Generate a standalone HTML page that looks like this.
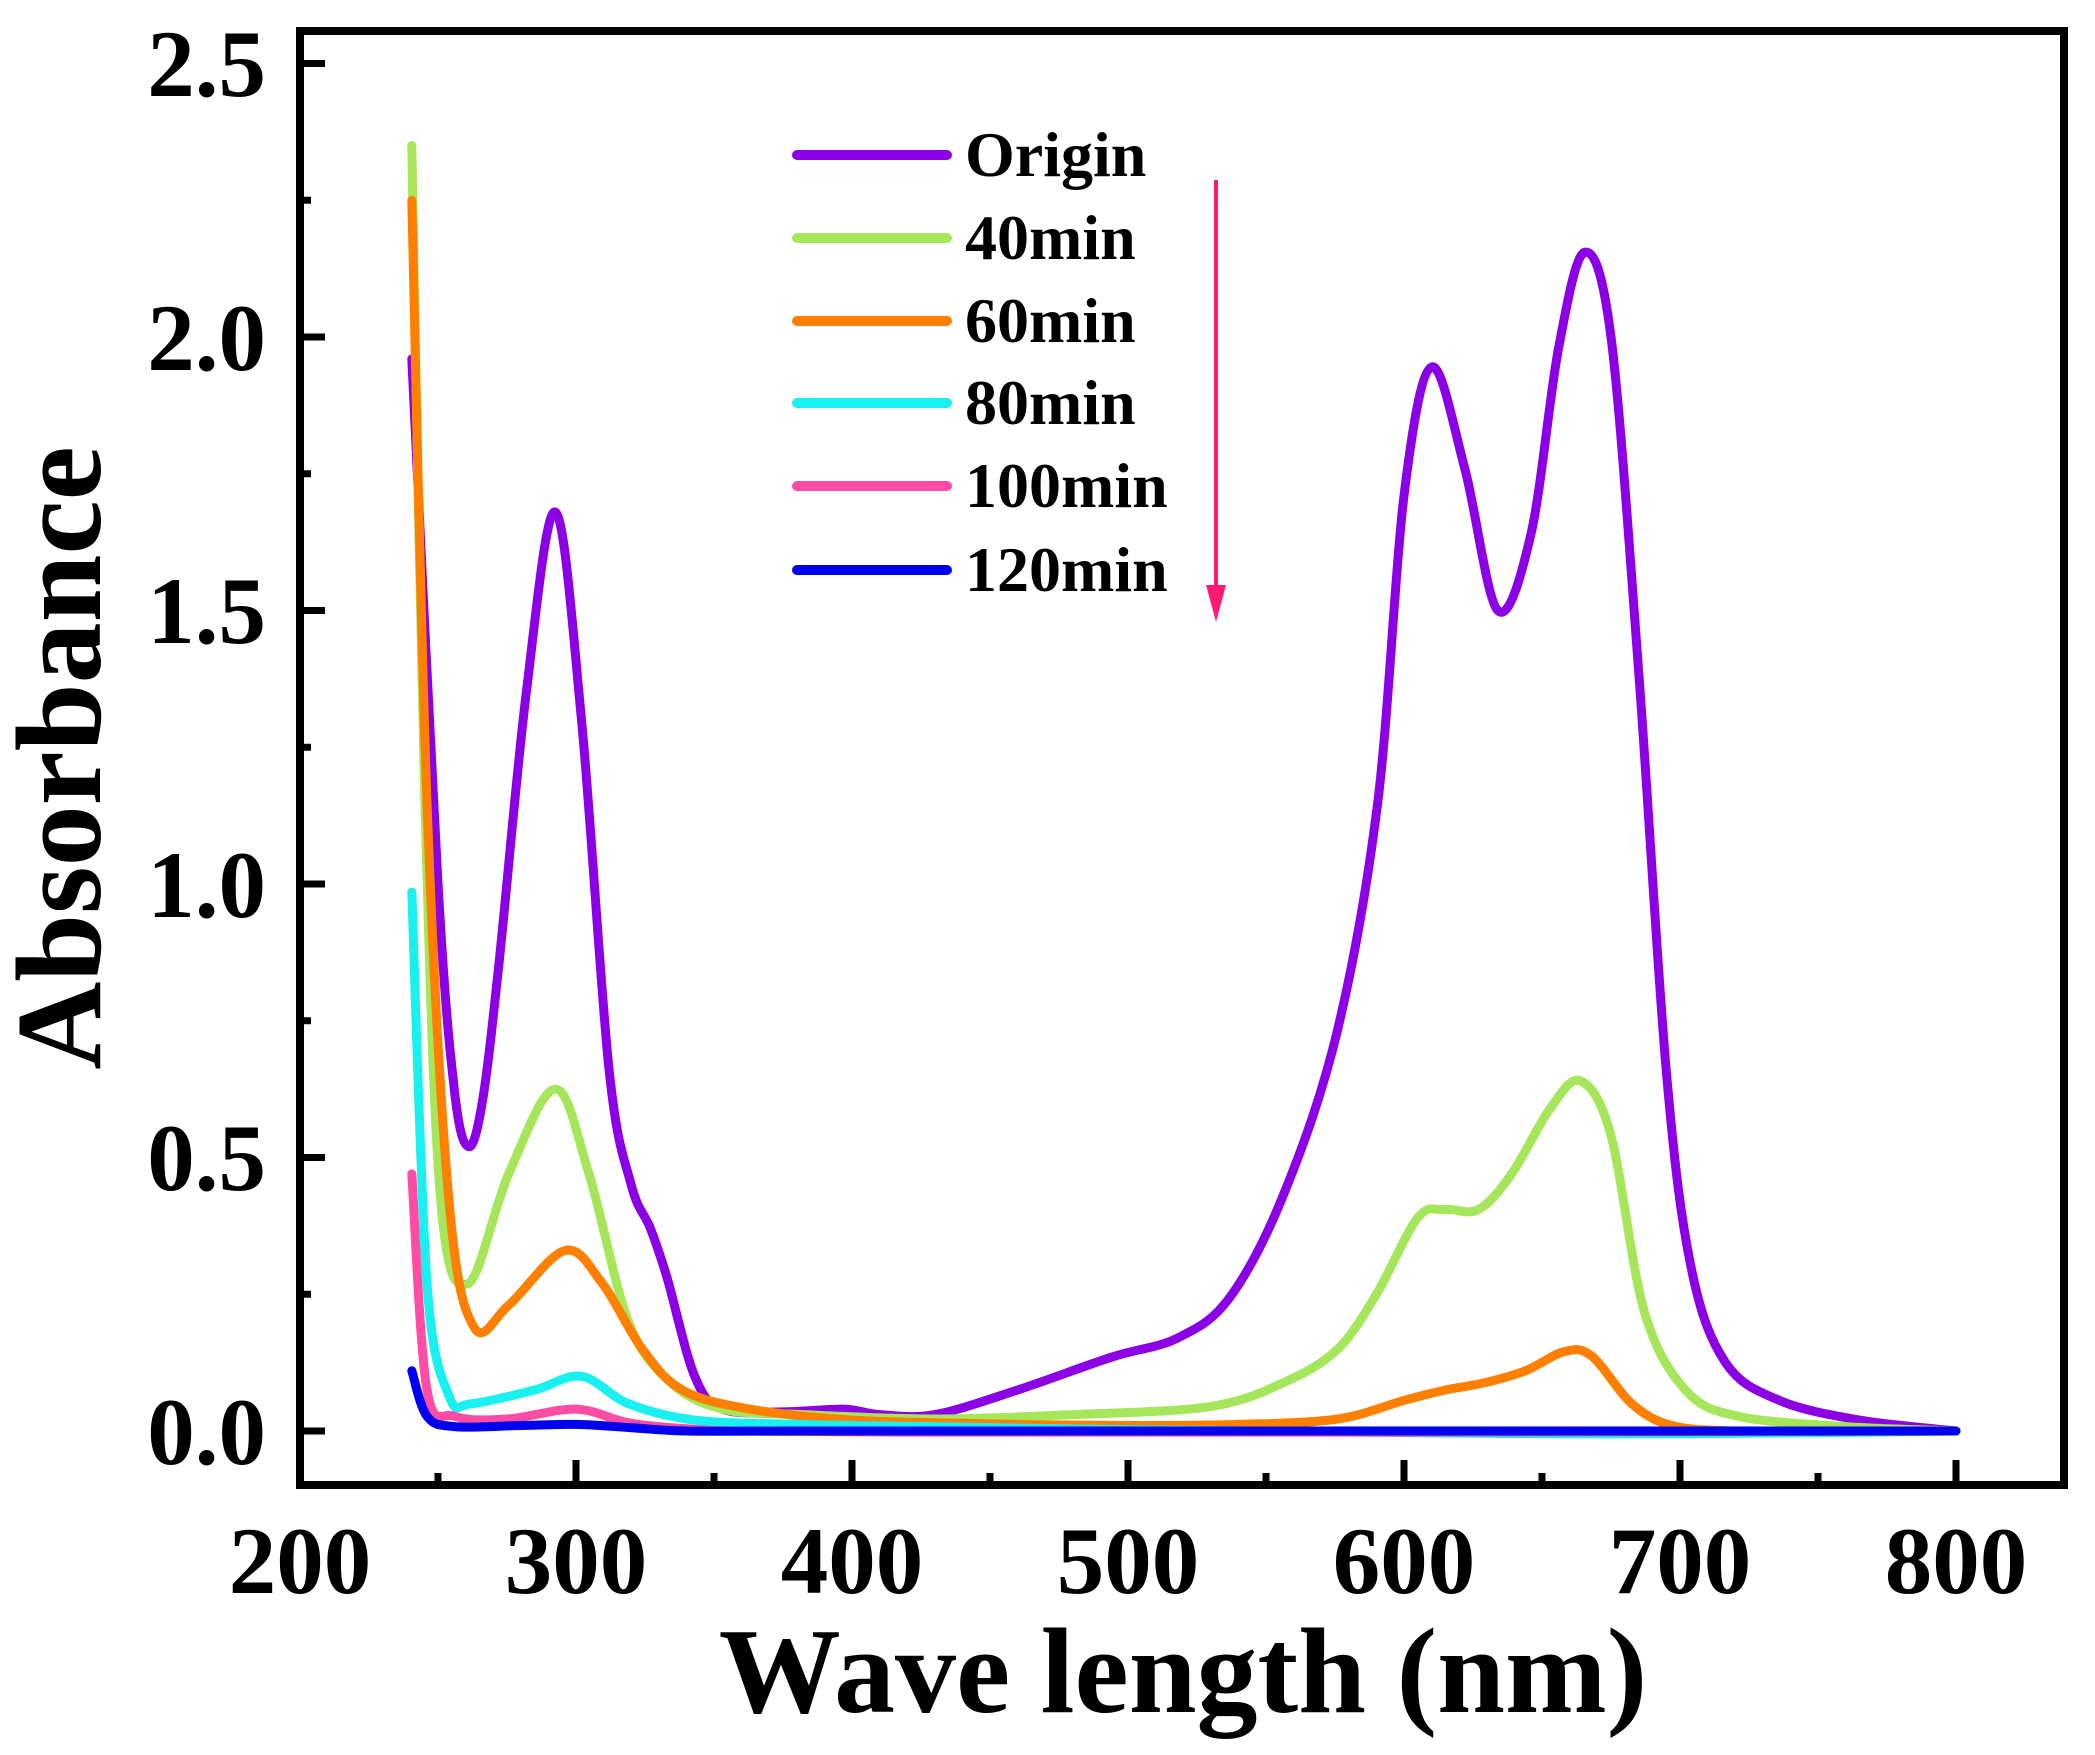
<!DOCTYPE html>
<html><head><meta charset="utf-8"><style>
html,body{margin:0;padding:0;background:#fff;}
svg{display:block;}
text{font-family:"Liberation Serif",serif;font-weight:bold;fill:#000;}
</style></head><body>
<svg id="s" width="2095" height="1755" viewBox="0 0 2095 1755" xmlns="http://www.w3.org/2000/svg">
<rect width="2095" height="1755" fill="#fff"/>
<g id="curves" fill="none" stroke-width="9" stroke-linejoin="round" stroke-linecap="round"></g>
<rect x="300" y="31" width="1764" height="1454" fill="none" stroke="#000" stroke-width="8"/>
<g id="ticks" stroke="#000" stroke-width="7"></g>
<g font-size="95" text-anchor="end">
<text x="266" y="1464">0.0</text>
<text x="266" y="1190">0.5</text>
<text x="266" y="917">1.0</text>
<text x="266" y="643">1.5</text>
<text x="266" y="370">2.0</text>
<text x="266" y="96">2.5</text>
</g>
<g font-size="95" text-anchor="middle">
<text x="300" y="1593">200</text>
<text x="576" y="1593">300</text>
<text x="852" y="1593">400</text>
<text x="1128" y="1593">500</text>
<text x="1404" y="1593">600</text>
<text x="1680" y="1593">700</text>
<text x="1956" y="1593">800</text>
</g>
<text x="1183" y="1712" font-size="122" text-anchor="middle">Wave length (nm)</text>
<text transform="translate(100,758) rotate(-90)" font-size="122" text-anchor="middle">Absorbance</text>
<g stroke-width="10" stroke-linecap="round">
<line x1="797" y1="155" x2="947" y2="155" stroke="#8c00e6"/>
<line x1="797" y1="238" x2="947" y2="238" stroke="#a6e65a"/>
<line x1="797" y1="321" x2="947" y2="321" stroke="#ff8000"/>
<line x1="797" y1="403" x2="947" y2="403" stroke="#19f0f0"/>
<line x1="797" y1="486" x2="947" y2="486" stroke="#ff4da6"/>
<line x1="797" y1="570" x2="947" y2="570" stroke="#0000ee"/>
</g>
<g font-size="64">
<text x="965" y="176">Origin</text>
<text x="965" y="259">40min</text>
<text x="965" y="342">60min</text>
<text x="965" y="424">80min</text>
<text x="965" y="507">100min</text>
<text x="965" y="591">120min</text>
</g>
<line x1="1216" y1="180" x2="1216" y2="600" stroke="#ff1a75" stroke-width="4"/>
<polygon points="1206,585 1226,585 1216,622" fill="#ff1a75"/>
</svg>
<script>
var X=function(l){return 300+(l-200)*2.76},Y=function(a){return 1431-a*547};
var data=[
["#8c00e6",[[240.5,1.96],[250,1.0],[256,0.62],[261,0.52],[266,0.6],[272,0.85],[282,1.35],[292.5,1.68],[302,1.3],[312,0.66],[320,0.45],[327,0.37],[333,0.28],[343,0.1],[353,0.04],[375,0.035],[397,0.04],[410,0.03],[430,0.03],[460,0.075],[494,0.135],[518,0.17],[537,0.245],[557,0.44],[576,0.735],[590.5,1.15],[600,1.71],[610,1.945],[622,1.76],[634,1.5],[646,1.64],[656,1.98],[665.5,2.155],[675,2.0],[685,1.39],[695,0.66],[704,0.3],[716.5,0.125],[736,0.056],[765,0.02],[800,0.0]]],
["#a6e65a",[[240.5,2.35],[245,1.2],[251,0.42],[261,0.27],[275.6,0.47],[292.5,0.625],[304.7,0.47],[319,0.2],[334,0.09],[353,0.04],[382,0.03],[430,0.022],[480,0.03],[530,0.045],[557,0.09],[576,0.15],[590,0.25],[605,0.39],[615,0.405],[627,0.405],[639,0.47],[653,0.59],[664,0.64],[675,0.54],[687,0.22],[702,0.075],[721,0.027],[760,0.008],[800,0.0]]],
["#ff8000",[[240.5,2.25],[246,1.15],[254,0.42],[263,0.19],[275.6,0.23],[296,0.33],[309.5,0.27],[324,0.15],[338.5,0.075],[363,0.04],[400,0.02],[450,0.013],[500,0.01],[540,0.012],[576,0.022],[600,0.056],[615,0.075],[629,0.088],[644,0.11],[658,0.145],[668,0.137],[682.5,0.05],[697,0.01],[720,0.0],[760,0.0],[800,0.0]]],
["#19f0f0",[[240.5,0.985],[246,0.27],[254,0.064],[262,0.05],[285,0.075],[302,0.1],[319,0.05],[343,0.02],[380,0.012],[430,0.008],[490,0.003],[550,0.0],[600,-0.003],[650,-0.005],[700,-0.005],[750,-0.003],[800,0.0]]],
["#ff4da6",[[240.5,0.47],[246,0.075],[256,0.027],[275,0.022],[300,0.04],[319,0.015],[340,0.004],[360,0.0],[420,-0.002],[500,-0.002],[600,-0.002],[700,-0.001],[800,0.0]]],
["#0000ee",[[240.5,0.11],[246,0.027],[256,0.008],[280,0.01],[300,0.012],[320,0.006],[340,0.0],[380,0.0],[450,0.0],[550,0.0],[650,0.0],[725,0.0],[800,0.0]]]];
var g=document.getElementById('curves');
data.forEach(function(s){var p=s[1].map(function(q){return [X(q[0]),Y(q[1])]});
var d='M'+p[0][0].toFixed(1)+','+p[0][1].toFixed(1);
for(var i=0;i<p.length-1;i++){var a=p[i-1]||p[i],b=p[i],c=p[i+1],e=p[i+2]||c;
d+=' C'+(b[0]+(c[0]-a[0])/6).toFixed(1)+','+(b[1]+(c[1]-a[1])/6).toFixed(1)+' '+(c[0]-(e[0]-b[0])/6).toFixed(1)+','+(c[1]-(e[1]-b[1])/6).toFixed(1)+' '+c[0].toFixed(1)+','+c[1].toFixed(1);}
var el=document.createElementNS('http://www.w3.org/2000/svg','path');el.setAttribute('d',d);el.setAttribute('stroke',s[0]);g.appendChild(el);});
var t=document.getElementById('ticks'),h='';
for(var l=250;l<=800;l+=50){var x=X(l),L=(l%100==0)?25:12;h+='<line x1="'+x+'" y1="1485" x2="'+x+'" y2="'+(1485-L)+'"/>';}
for(var a=0;a<=10;a++){var y=Y(a*0.25),L=(a%2==0)?25:11;h+='<line x1="300" y1="'+y+'" x2="'+(300+L)+'" y2="'+y+'"/>';}
t.innerHTML=h;
</script>
</body></html>
